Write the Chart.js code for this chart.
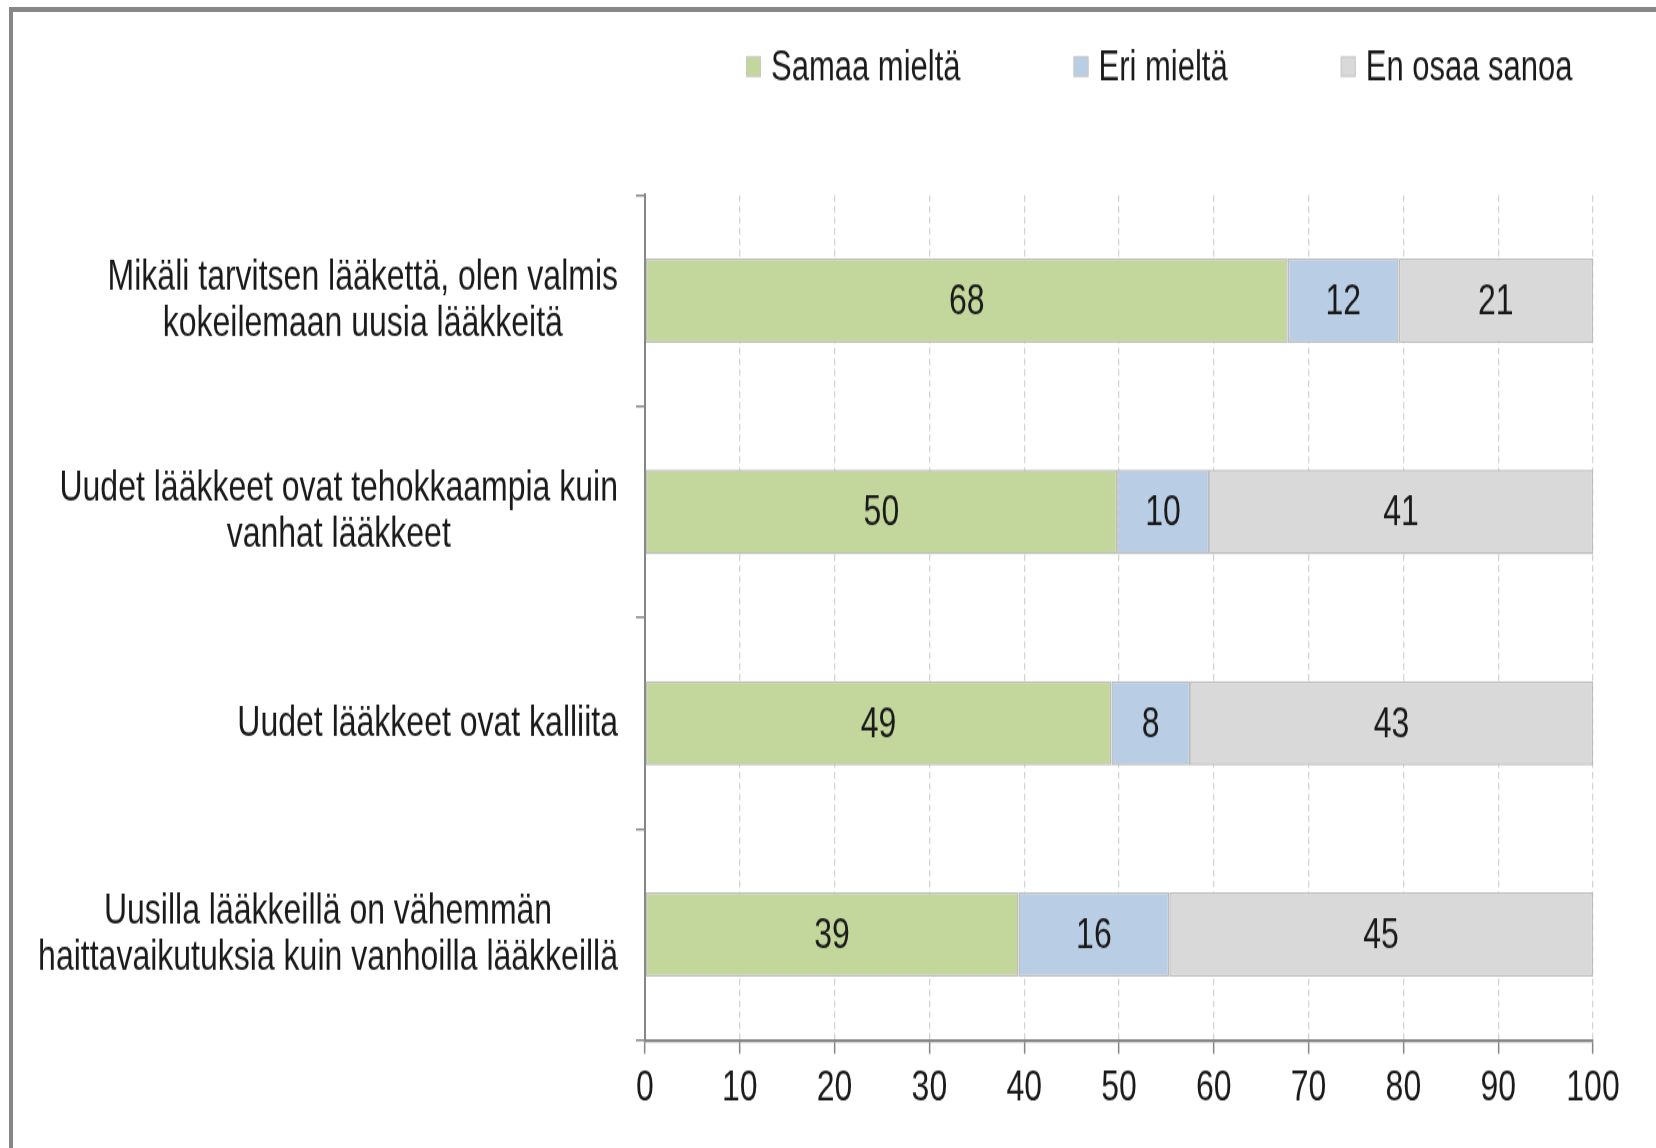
<!DOCTYPE html>
<html>
<head>
<meta charset="utf-8">
<script src="https://cdn.jsdelivr.net/npm/chart.js@4.4.1/dist/chart.umd.min.js"></script>
<style>
  html, body { margin: 0; padding: 0; background: #fff; }
  body { width: 1656px; height: 1148px; overflow: hidden; position: relative; }
  /* the source picture is a vertically stretched Excel chart, so draw flat and stretch */
  #wrap { position: absolute; left: 0; top: 0; width: 1656px; height: 844px; transform: scaleY(1.3602); transform-origin: 0 0; }
  #frame { position: absolute; left: 9px; top: 7px; right: 0; bottom: 0; border-top: 5px solid #878787; border-left: 4px solid #878787; box-sizing: border-box; pointer-events: none; }
</style>
</head>
<body>
<div id="wrap"><canvas id="chart" width="1656" height="844"></canvas></div>
<div id="frame"></div>
<script>
// categories (label lines) and series values in percent
const categories = [
    ['Mikäli tarvitsen lääkettä, olen valmis', 'kokeilemaan uusia lääkkeitä'],
    ['Uudet lääkkeet ovat tehokkaampia kuin', 'vanhat lääkkeet'],
    ['Uudet lääkkeet ovat kalliita'],
    ['Uusilla lääkkeillä on vähemmän', 'haittavaikutuksia kuin vanhoilla lääkkeillä']
];
const seriesNames = ['Samaa mieltä', 'Eri mieltä', 'En osaa sanoa'];
const samaaMielta = [67.8, 49.8, 49.2, 39.4];
const eriMielta = [11.7, 9.7, 8.3, 15.9];
const enOsaaSanoa = [20.5, 40.5, 42.5, 44.7];
const xTicks = [0, 10, 20, 30, 40, 50, 60, 70, 80, 90, 100];

const colors = ['#c3d69b', '#b9cde5', '#d9d9d9'];
const FONT = '"Liberation Sans", Arial, sans-serif';
const TEXT = '#1a1a1a';

// value labels in the middle of each segment
const valueLabels = {
    id: 'valueLabels',
    afterDatasetsDraw(chart) {
        const ctx = chart.ctx;
        ctx.save();
        ctx.font = '32px ' + FONT;
        ctx.fillStyle = TEXT;
        ctx.textAlign = 'center';
        ctx.textBaseline = 'middle';
        chart.data.datasets.forEach((ds, di) => {
            chart.getDatasetMeta(di).data.forEach((bar, i) => {
                ctx.fillText(String(Math.round(ds.data[i])), (bar.x + bar.base) / 2, bar.y + 1);
            });
        });
        ctx.restore();
    }
};

// category labels: block right aligned to the axis, lines centred in the block
const categoryLabels = {
    id: 'categoryLabels',
    afterDraw(chart) {
        const ctx = chart.ctx;
        const y = chart.scales.y;
        ctx.save();
        ctx.font = '32px ' + FONT;
        ctx.fillStyle = TEXT;
        ctx.textAlign = 'center';
        ctx.textBaseline = 'middle';
        categories.forEach((lines, i) => {
            const cy = y.getPixelForTick(i);
            const widest = Math.max(...lines.map(l => ctx.measureText(l).width));
            const cx = y.right - 27 - widest / 2;
            lines.forEach((l, j) => {
                ctx.fillText(l, cx, cy + (j - (lines.length - 1) / 2) * 33.5);
            });
        });
        ctx.restore();
    }
};

// legend row at the top right, wide gaps like the original
const topLegend = {
    id: 'topLegend',
    afterDraw(chart) {
        const ctx = chart.ctx;
        ctx.save();
        ctx.font = '31px ' + FONT;
        ctx.textBaseline = 'alphabetic';
        let x = 746;
        chart.data.datasets.forEach((ds, i) => {
            ctx.fillStyle = ds.backgroundColor;
            ctx.fillRect(x, 41.5, 15, 15);
            ctx.strokeStyle = '#c8c8c8';
            ctx.lineWidth = 1;
            ctx.strokeRect(x + 0.5, 42, 14, 14);
            ctx.fillStyle = TEXT;
            ctx.fillText(ds.label, x + 25, 59.3);
            x += 25 + ctx.measureText(ds.label).width + 113;
        });
        ctx.restore();
    }
};

const seriesData = [samaaMielta, eriMielta, enOsaaSanoa];

new Chart(document.getElementById('chart'), {
    type: 'bar',
    data: {
        labels: categories,
        datasets: seriesNames.map((name, i) => ({
            label: name,
            data: seriesData[i],
            backgroundColor: colors[i],
            borderColor: '#bdbdbd',
            borderWidth: 1.5,
            borderSkipped: false,
            categoryPercentage: 1,
            barPercentage: 0.4
        }))
    },
    options: {
        indexAxis: 'y',
        responsive: false,
        animation: false,
        layout: { padding: { top: 143.4, right: 63, left: 0, bottom: 0 } },
        plugins: {
            legend: { display: false },
            tooltip: { enabled: false }
        },
        scales: {
            x: {
                stacked: true,
                min: 0,
                max: 100,
                afterBuildTicks: s => { s.ticks = xTicks.map(v => ({ value: v })); },
                afterFit: s => { s.height = 844 - 764.7; },
                grid: {
                    color: c => (c.tick && c.tick.value === 0) ? 'rgba(0,0,0,0)' : '#d4d4d4',
                    lineWidth: 1.3,
                    tickColor: '#868686',
                    tickLength: 10,
                    tickWidth: 1.5
                },
                border: { display: true, color: '#868686', width: 2.2, dash: [5, 3] },
                ticks: {
                    color: TEXT,
                    font: { family: FONT, size: 32 },
                    padding: 6,
                    maxRotation: 0,
                    autoSkip: false
                }
            },
            y: {
                stacked: true,
                afterFit: s => { s.width = 645; },
                ticks: { display: false },
                grid: {
                    offset: true,
                    drawOnChartArea: false,
                    drawTicks: true,
                    tickLength: 9,
                    color: '#868686',
                    lineWidth: 1.5
                },
                border: { display: true, color: '#868686', width: 2 }
            }
        }
    },
    plugins: [valueLabels, categoryLabels, topLegend]
});
</script>
</body>
</html>
